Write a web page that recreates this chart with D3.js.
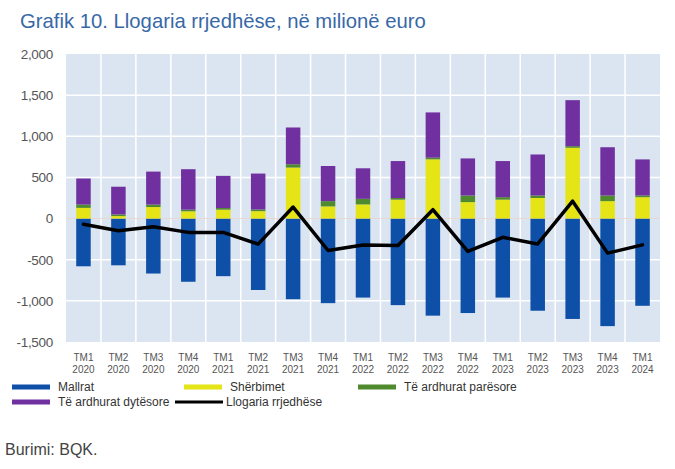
<!DOCTYPE html>
<html>
<head>
<meta charset="utf-8">
<script src="https://cdn.jsdelivr.net/npm/d3@7"></script>
<style>
  body { margin: 0; background: #fff; }
  svg { display: block; font-family: "Liberation Sans", Arial, sans-serif; }
</style>
</head>
<body>
<div class="Canvas"></div>
<script>
// Quarters on the x axis (two lines each)
const quarters = ['TM1', 'TM2', 'TM3', 'TM4', 'TM1', 'TM2', 'TM3', 'TM4', 'TM1', 'TM2', 'TM3', 'TM4', 'TM1', 'TM2', 'TM3', 'TM4', 'TM1'];
const years = ['2020', '2020', '2020', '2020', '2021', '2021', '2021', '2021', '2022', '2022', '2022', '2022', '2023', '2023', '2023', '2023', '2024'];

// Series, millions of euro
const mallrat = [-580, -568, -668, -768, -700, -868, -980, -1028, -960, -1052, -1180, -1148, -960, -1120, -1220, -1307, -1060];
const sherbimet = [130, 30, 140, 88, 108, 90, 620, 148, 172, 230, 720, 200, 230, 250, 860, 212, 260];
const ardhuratParesore = [40, 20, 30, 20, 20, 20, 40, 64, 68, 20, 20, 80, 30, 30, 20, 68, 20];
const ardhuratDytesore = [317, 337, 401, 492, 391, 437, 447, 427, 371, 449, 550, 451, 439, 499, 559, 587, 439];
const llogariaRrjedhese = [-70, -148, -100, -168, -168, -310, 140, -388, -320, -328, 108, -400, -228, -308, 211, -420, -320];

const yTicks = [-1500, -1000, -500, 0, 500, 1000, 1500, 2000];

const seriesKeys = ['mallrat', 'sherbimet', 'paresore', 'dytesore'];
const colors = {
    mallrat: '#0e50a8',
    sherbimet: '#e4e417',
    paresore: '#4f8a2e',
    dytesore: '#7030a0',
};

const width = 675;
const height = 469;
const plot = { left: 66, right: 660, top: 54, bottom: 342 };

const svg = d3.select('.Canvas').append('svg')
    .attr('width', width)
    .attr('height', height);

// Title
svg.append('text')
    .attr('x', 20)
    .attr('y', 28)
    .attr('font-size', '20.3px')
    .attr('fill', '#3868a6')
    .text('Grafik 10. Llogaria rrjedhëse, në milionë euro');

const table = quarters.map((q, i) => ({
    idx: i,
    mallrat: mallrat[i],
    sherbimet: sherbimet[i],
    paresore: ardhuratParesore[i],
    dytesore: ardhuratDytesore[i],
}));

const x = d3.scaleBand()
    .domain(d3.range(quarters.length))
    .range([plot.left, plot.right])
    .paddingInner(0)
    .paddingOuter(0);

const y = d3.scaleLinear()
    .domain([-1500, 2000])
    .range([plot.bottom, plot.top]);

// Plot background
svg.append('rect')
    .attr('x', plot.left)
    .attr('y', plot.top)
    .attr('width', plot.right - plot.left)
    .attr('height', plot.bottom - plot.top)
    .attr('fill', '#dbe5f1');

// Horizontal grid lines
svg.append('g')
    .selectAll('line')
    .data(yTicks.filter((t) => t !== 0 && t !== 2000 && t !== -1500))
    .enter()
    .append('line')
    .attr('x1', plot.left)
    .attr('x2', plot.right)
    .attr('y1', (d) => y(d))
    .attr('y2', (d) => y(d))
    .attr('stroke', '#ffffff')
    .attr('stroke-width', 1.5);

// Vertical grid lines between quarters
svg.append('g')
    .selectAll('line')
    .data(d3.range(1, quarters.length))
    .enter()
    .append('line')
    .attr('x1', (d) => x(d))
    .attr('x2', (d) => x(d))
    .attr('y1', plot.top)
    .attr('y2', plot.bottom)
    .attr('stroke', '#ffffff')
    .attr('stroke-width', 1.5);

// Zero line
svg.append('line')
    .attr('x1', plot.left)
    .attr('x2', plot.right)
    .attr('y1', y(0))
    .attr('y2', y(0))
    .attr('stroke', '#e9d6cf')
    .attr('stroke-width', 1);

// Stacked bars
const stack = d3.stack().keys(seriesKeys).offset(d3.stackOffsetDiverging);
const stacked = stack(table);
const barW = 14.5;

svg.append('g')
    .selectAll('g')
    .data(stacked)
    .enter()
    .append('g')
    .attr('fill', (s) => colors[s.key])
    .selectAll('rect')
    .data((s) => s)
    .enter()
    .append('rect')
    .attr('x', (d) => x(d.data.idx) + x.bandwidth() / 2 - barW / 2)
    .attr('width', barW)
    .attr('y', (d) => y(Math.max(d[0], d[1])))
    .attr('height', (d) => Math.abs(y(d[0]) - y(d[1])));

// Current account line
const line = d3.line()
    .x((d, i) => x(i) + x.bandwidth() / 2)
    .y((d) => y(d));

svg.append('path')
    .datum(llogariaRrjedhese)
    .attr('d', line)
    .attr('fill', 'none')
    .attr('stroke', '#000000')
    .attr('stroke-width', 3.5)
    .attr('stroke-linejoin', 'round')
    .attr('stroke-linecap', 'round');

// Y axis labels
const fmt = (v) => d3.format(',')(v).replace('−', '-');
const yAxis = d3.axisLeft(y).tickValues(yTicks).tickFormat(fmt).tickSize(0).tickPadding(0);
const yg = svg.append('g')
    .attr('transform', `translate(${plot.left - 13},0)`)
    .call(yAxis);
yg.select('.domain').remove();
yg.selectAll('text')
    .attr('font-size', '13.5px')
    .attr('font-family', '"Liberation Sans", Arial, sans-serif')
    .attr('fill', '#555555')
    .attr('letter-spacing', '-0.3px');

// X axis labels (two lines)
const xg = svg.append('g')
    .selectAll('text')
    .data(quarters)
    .enter()
    .append('text')
    .attr('text-anchor', 'middle')
    .attr('font-size', '10px')
    .attr('fill', '#555555')
    .attr('x', (d, i) => x(i) + x.bandwidth() / 2);
xg.append('tspan')
    .attr('x', (d, i) => x(i) + x.bandwidth() / 2)
    .attr('y', 361)
    .text((d) => d);
xg.append('tspan')
    .attr('x', (d, i) => x(i) + x.bandwidth() / 2)
    .attr('y', 373)
    .text((d, i) => years[i]);

// Legend
const legendItems = [
    { label: 'Mallrat', color: colors.mallrat, x: 12, y: 387, type: 'rect' },
    { label: 'Shërbimet', color: colors.sherbimet, x: 184, y: 387, type: 'rect' },
    { label: 'Të ardhurat parësore', color: colors.paresore, x: 358, y: 387, type: 'rect' },
    { label: 'Të ardhurat dytësore', color: colors.dytesore, x: 12, y: 402, type: 'rect' },
    { label: 'Llogaria rrjedhëse', color: '#000000', x: 175, y: 402, type: 'line' },
];

const lg = svg.append('g')
    .selectAll('g')
    .data(legendItems)
    .enter()
    .append('g')
    .attr('transform', (d) => `translate(${d.x},${d.y})`);
lg.append('rect')
    .attr('x', 0)
    .attr('y', (d) => (d.type === 'line' ? -1.5 : -2.5))
    .attr('width', (d) => (d.type === 'line' ? 48 : 38))
    .attr('height', (d) => (d.type === 'line' ? 3 : 5))
    .attr('fill', (d) => d.color);
lg.append('text')
    .attr('x', (d) => (d.type === 'line' ? 51 : 46))
    .attr('y', 0)
    .attr('dy', '0.35em')
    .attr('font-size', '12px')
    .attr('fill', '#333333')
    .text((d) => d.label);

// Source
svg.append('text')
    .attr('x', 5)
    .attr('y', 455)
    .attr('font-size', '16px')
    .attr('fill', '#444444')
    .text('Burimi: BQK.');
</script>
</body>
</html>
